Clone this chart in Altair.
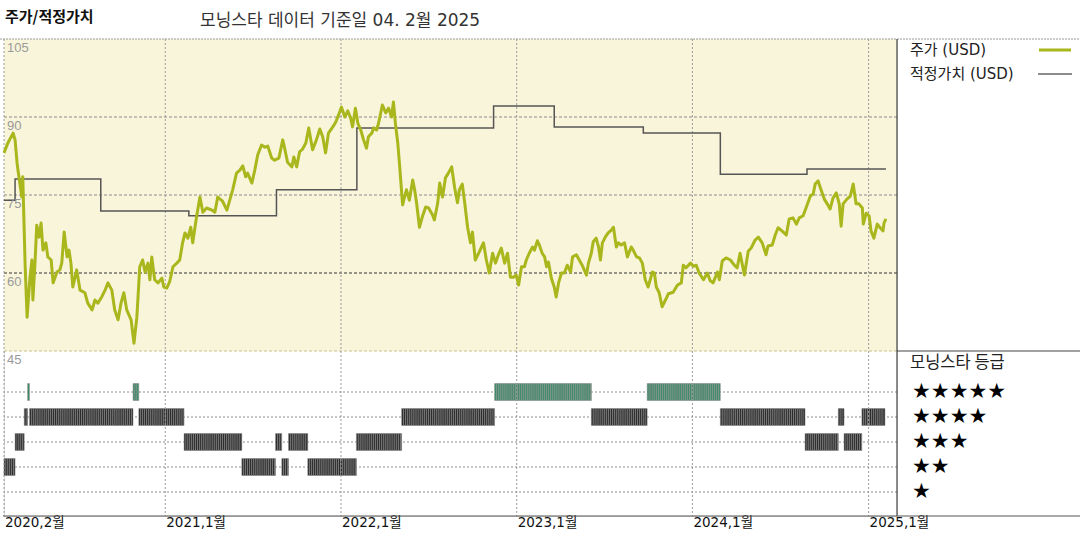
import altair as alt
import pandas as pd

# ---------------- data ----------------
START = "2020-02-01"
END = "2025-03-01"

# price (USD): days after 2020-02-01, value
price_day = [
    0, 8, 19, 23, 27, 29, 37, 39, 44, 48,
    54, 58, 60, 64, 68, 73, 77, 81, 87, 91,
    98, 102, 110, 116, 120, 125, 131, 135, 139, 143,
    151, 158, 168, 174, 183, 189, 195, 203, 210, 216,
    224, 230, 237, 243, 249, 255, 264, 270, 276, 282,
    288, 293, 299, 303, 307, 313, 320, 328, 332, 338,
    344, 351, 359, 365, 371, 376, 382, 388, 392, 400,
    407, 413, 421, 432, 438, 444, 454, 463, 469, 475,
    483, 490, 496, 502, 506, 515, 521, 527, 535, 542,
    548, 556, 562, 571, 579, 583, 589, 598, 602, 608,
    614, 620, 627, 633, 641, 649, 656, 662, 668, 674,
    683, 689, 695, 701, 708, 714, 720, 724, 730, 735,
    741, 747, 753, 757, 764, 768, 774, 778, 786, 793,
    799, 805, 809, 813, 818, 822, 828, 832, 836, 842,
    849, 853, 857, 863, 869, 876, 882, 890, 894, 901,
    905, 911, 917, 923, 930, 936, 942, 946, 952, 957,
    963, 969, 973, 979, 986, 992, 996, 1002, 1008, 1015,
    1021, 1027, 1033, 1040, 1046, 1052, 1058, 1064, 1069, 1075,
    1081, 1085, 1091, 1098, 1102, 1108, 1112, 1118, 1123, 1127,
    1131, 1137, 1143, 1147, 1152, 1158, 1164, 1170, 1177, 1181,
    1189, 1195, 1201, 1210, 1214, 1220, 1224, 1230, 1235, 1239,
    1243, 1249, 1255, 1262, 1266, 1272, 1276, 1282, 1289, 1295,
    1303, 1307, 1314, 1320, 1326, 1332, 1338, 1347, 1351, 1355,
    1361, 1367, 1374, 1380, 1390, 1399, 1407, 1411, 1417, 1426,
    1432, 1438, 1444, 1453, 1461, 1467, 1473, 1482, 1486, 1492,
    1500, 1509, 1517, 1523, 1529, 1538, 1546, 1552, 1560, 1567,
    1575, 1583, 1587, 1596, 1602, 1608, 1616, 1625, 1631, 1639,
    1646, 1652, 1660, 1666, 1675, 1681, 1685, 1691, 1698, 1704,
    1710, 1716, 1722, 1729, 1735, 1739, 1743, 1751, 1758, 1764,
    1770, 1776, 1783, 1785, 1791, 1797, 1801, 1807, 1814, 1820,
    1826, 1828, 1832,
]
price_val = [
    83.1, 85.0, 86.9, 85.6, 81.3, 79.8, 74.6, 78.5, 61.2, 51.5,
    59.2, 62.5, 54.8, 61.2, 69.2, 66.9, 69.6, 64.4, 65.8, 63.1,
    62.5, 58.1, 60.2, 60.6, 61.9, 67.9, 63.1, 64.4, 61.9, 57.3,
    60.6, 56.7, 56.2, 54.2, 52.9, 54.8, 54.2, 55.4, 56.7, 58.1,
    56.7, 52.9, 51.0, 54.2, 56.2, 52.9, 51.0, 46.5, 51.5, 61.2,
    62.5, 60.2, 61.9, 58.7, 63.1, 58.7, 58.1, 59.0, 57.3, 57.1,
    58.3, 61.2, 61.9, 62.5, 65.8, 67.7, 66.7, 68.8, 65.8, 70.8,
    74.6, 71.7, 72.5, 72.1, 71.7, 74.6, 73.8, 72.1, 74.0, 76.0,
    79.2, 79.8, 80.6, 78.5, 79.2, 77.3, 79.8, 82.7, 84.6, 84.2,
    84.4, 82.1, 81.7, 82.1, 85.6, 84.0, 81.3, 80.4, 82.3, 80.4,
    83.3, 83.8, 85.0, 87.9, 83.7, 85.6, 87.7, 86.2, 83.1, 86.9,
    88.1, 89.0, 90.4, 91.9, 90.0, 91.2, 89.8, 88.1, 91.7, 88.8,
    87.5, 85.6, 84.0, 86.2, 86.9, 87.9, 87.5, 88.8, 92.3, 90.8,
    91.7, 90.0, 92.9, 88.8, 85.0, 80.4, 73.1, 74.6, 76.0, 74.0,
    77.9, 76.0, 73.5, 68.8, 70.8, 72.7, 72.5, 71.2, 70.2, 73.5,
    77.3, 74.6, 78.3, 79.2, 80.4, 76.5, 73.5, 76.0, 77.1, 73.5,
    68.8, 65.8, 67.9, 62.5, 63.8, 65.0, 65.8, 62.5, 60.0, 63.8,
    61.9, 63.5, 64.8, 61.9, 63.8, 59.2, 59.2, 59.6, 57.7, 61.2,
    61.2, 62.5, 63.8, 65.0, 64.4, 66.2, 65.4, 63.8, 63.1, 61.2,
    62.1, 59.0, 57.3, 55.4, 58.1, 60.0, 60.0, 61.5, 60.2, 63.1,
    63.5, 62.5, 61.5, 59.6, 61.9, 63.8, 66.0, 66.7, 65.0, 62.5,
    65.8, 66.9, 67.7, 68.3, 68.8, 65.0, 65.8, 65.4, 65.8, 63.1,
    65.0, 64.4, 63.1, 62.9, 61.9, 58.7, 57.3, 60.2, 60.0, 57.3,
    56.2, 53.5, 54.8, 56.0, 56.3, 57.7, 58.1, 61.5, 61.0, 61.9,
    61.3, 61.5, 60.0, 58.7, 60.0, 58.5, 58.1, 60.2, 58.7, 62.3,
    62.9, 62.5, 61.5, 61.0, 63.8, 59.6, 64.2, 64.8, 66.3, 66.9,
    65.8, 63.5, 65.2, 65.4, 67.3, 68.7, 68.1, 67.3, 70.4, 70.6,
    69.4, 70.6, 71.0, 72.5, 74.8, 75.2, 77.1, 77.7, 75.8, 74.2,
    73.3, 72.3, 74.4, 75.4, 73.3, 69.0, 73.3, 74.2, 74.8, 77.1,
    73.3, 73.3, 72.5, 69.4, 71.5, 71.0, 68.1, 66.7, 69.4, 68.7,
    68.1, 69.6, 70.4,
]

# fair value (USD), step changes
fv_day = [0, 23, 201, 384, 566, 733, 1017, 1143, 1328, 1488, 1668, 1832]
fv_val = [74.0, 78.1, 71.9, 71.0, 76.0, 87.9, 92.1, 88.1, 86.9, 79.0, 80.0, 80.0]

# Morningstar rating periods
rt_start = [0, 23, 42, 49, 53, 268, 280, 374, 494, 564, 577, 591, 631, 732,
            826, 1019, 1220, 1336, 1488, 1664, 1733, 1745, 1782]
rt_end = rt_start[1:] + [1830]
rt_stars = [2, 3, 4, 5, 4, 5, 4, 3, 2, 3, 2, 3, 2, 3, 4, 5, 4, 5, 4, 3, 4, 3, 4]

tick_dates = ["2020-02-01", "2021-01-01", "2022-01-01", "2023-01-01", "2024-01-01", "2025-01-01"]
tick_labels = ["2020,2월", "2021,1월", "2022,1월", "2023,1월", "2024,1월", "2025,1월"]
price_ticks = [105, 90, 75, 60, 45]
star_levels = [5, 4, 3, 2, 1]

# ---------------- frames ----------------
t0 = pd.Timestamp(START)
FMT = "%Y-%m-%dT%H:%M:%S"


def to_date(days):
    return (t0 + pd.to_timedelta(days, unit="D")).strftime(FMT)


price_df = pd.DataFrame({"date": to_date(price_day), "price": price_val})
fv_df = pd.DataFrame({"date": to_date(fv_day), "fv": fv_val})

rows = []
for s, e, r in zip(rt_start, rt_end, rt_stars):
    d = s
    while d < e:
        d2 = min(d + 4, e)
        rows.append({"d0": to_date([d])[0], "d1": to_date([d2])[0], "stars": r})
        d = d2
rating_df = pd.DataFrame(rows)

ticks_df = pd.DataFrame({"date": [pd.Timestamp(t).strftime(FMT) for t in tick_dates], "label": tick_labels})
bg_df = pd.DataFrame({"x0": [t0.strftime(FMT)], "x1": [pd.Timestamp(END).strftime(FMT)], "y0": [105], "y1": [45]})

# ---------------- layout ----------------
W, H = 893, 477
TOP_H = 312
OLIVE = "#A9B61C"
FONT = "Noto Sans CJK KR"
MIX = "DejaVu Sans, Noto Sans CJK KR"

x_scale = alt.Scale(domain=[alt.DateTime(year=2020, month=2, date=1),
                            alt.DateTime(year=2025, month=3, date=1)])
price_scale = alt.Scale(domain=[45, 105], range=[TOP_H, 0])
rating_scale = alt.Scale(domain=[0.04, 6.64], range=[H, TOP_H])

X = lambda f: alt.X(f, type="temporal", scale=x_scale, axis=None)

bg = alt.Chart(bg_df).mark_rect(color="#F9F5DA").encode(
    x=X("x0"), x2="x1",
    y=alt.Y("y0:Q", scale=price_scale, axis=None), y2="y1:Q")

grid_light = alt.Chart(pd.DataFrame({"v": [90, 75]})).mark_rule(
    color="#8c8c8c", strokeDash=[3, 2], strokeWidth=1).encode(
    y=alt.Y("v:Q", scale=price_scale, axis=None))
grid_dark = alt.Chart(pd.DataFrame({"v": [60]})).mark_rule(
    color="#333333", strokeDash=[3, 2], strokeWidth=1).encode(
    y=alt.Y("v:Q", scale=price_scale, axis=None))
grid_45 = alt.Chart(pd.DataFrame({"v": [45]})).mark_rule(
    color="#C9C18E", strokeDash=[3, 2], strokeWidth=1).encode(
    y=alt.Y("v:Q", scale=price_scale, axis=None))
grid_star = alt.Chart(pd.DataFrame({"s": star_levels})).mark_rule(
    color="#8c8c8c", strokeDash=[2, 2], strokeWidth=1).encode(
    y=alt.Y("s:Q", scale=rating_scale, axis=None))
grid_x = alt.Chart(ticks_df).mark_rule(
    color="#9a9a9a", strokeDash=[2, 2], strokeWidth=1).encode(x=X("date"))

bars = alt.Chart(rating_df).transform_calculate(
    top="datum.stars + 0.34", bot="datum.stars - 0.34"
).mark_rect(stroke="#8f8f8f", strokeWidth=0.5).encode(
    x=X("d0"), x2="d1",
    y=alt.Y("top:Q", scale=rating_scale, axis=None), y2="bot:Q",
    color=alt.condition("datum.stars == 5", alt.value("#3F8C6C"), alt.value("#2A2A2A")))

fv_line = alt.Chart(fv_df).mark_line(
    interpolate="step-after", color="#555555", strokeWidth=1.5).encode(
    x=X("date"), y=alt.Y("fv:Q", scale=price_scale, axis=None))

price_line = alt.Chart(price_df).mark_line(
    color=OLIVE, strokeWidth=3, strokeJoin="round").encode(
    x=X("date"), y=alt.Y("price:Q", scale=price_scale, axis=None))

ylabels = alt.Chart(pd.DataFrame({"v": price_ticks})).mark_text(
    align="left", baseline="top", dy=3, fontSize=13, color="#9a9a9a",
    font="Liberation Sans").encode(
    x=alt.value(3), y=alt.Y("v:Q", scale=price_scale, axis=None), text="v:Q")

xlabels = alt.Chart(ticks_df).mark_text(
    align="left", baseline="middle", dx=1, fontSize=13.5, color="#111111", font=MIX).encode(
    x=X("date"), y=alt.value(H + 7), text="label:N")

stars_txt = alt.Chart(pd.DataFrame({"s": star_levels})).transform_calculate(
    t="substring('★★★★★', 0, datum.s)"
).mark_text(align="left", baseline="middle", fontSize=21, color="#000000",
            font="DejaVu Sans").encode(
    x=alt.value(908), y=alt.Y("s:Q", scale=rating_scale, axis=None), text="t:N")


def txt(s, x, y, size, weight="normal", color="#222222", font=MIX):
    return alt.Chart(pd.DataFrame({"t": [s]})).mark_text(
        align="left", baseline="middle", fontSize=size, fontWeight=weight,
        color=color, font=font).encode(x=alt.value(x), y=alt.value(y), text="t:N")


def seg(x1, x2, y1, y2, color, width=1, dash=None):
    kw = dict(color=color, strokeWidth=width)
    if dash:
        kw["strokeDash"] = dash
    return alt.Chart(pd.DataFrame({"a": [0]})).mark_rule(**kw).encode(
        x=alt.value(x1), x2=alt.value(x2), y=alt.value(y1), y2=alt.value(y2))


title1 = txt("주가/적정가치", 1, -22, 15, "bold", "#111111", FONT)
title2 = txt("모닝스타 데이터 기준일 04. 2월 2025", 196, -18, 17, "normal", "#333333")
leg1 = txt("주가 (USD)", 906, 11, 15)
leg2 = txt("적정가치 (USD)", 906, 35, 15)
leg3 = txt("모닝스타 등급", 906, 324, 16.5, "normal", "#222222", FONT)
leg1_line = seg(1035, 1067, 11, 11, OLIVE, 3)
leg2_line = seg(1034, 1068, 35, 35, "#666666", 1.3)

frame_top = seg(-4, 1076, 0, 0, "#9a9a9a", 1, [2, 1])
frame_right = seg(W, W, 0, H, "#444444", 1.2)
frame_mid = seg(W, 1076, TOP_H, TOP_H, "#444444", 1.2)
frame_bottom = seg(-1, 1076, H, H, "#555555", 1.2)

chart = alt.layer(
    bg, grid_light, grid_dark, grid_45, grid_star, bars, grid_x,
    fv_line, price_line, ylabels, xlabels, stars_txt,
    title1, title2, leg1, leg2, leg3, leg1_line, leg2_line,
    frame_top, frame_right, frame_mid, frame_bottom,
).resolve_scale(y="independent").properties(
    width=W, height=H,
    autosize=alt.AutoSizeParams(type="none"),
    padding={"left": 4, "top": 39, "right": 183, "bottom": 24},
    background="white",
).configure_view(stroke=None).configure(font=FONT)

chart.save("out.html", embed_options={"renderer": "svg", "actions": False})
